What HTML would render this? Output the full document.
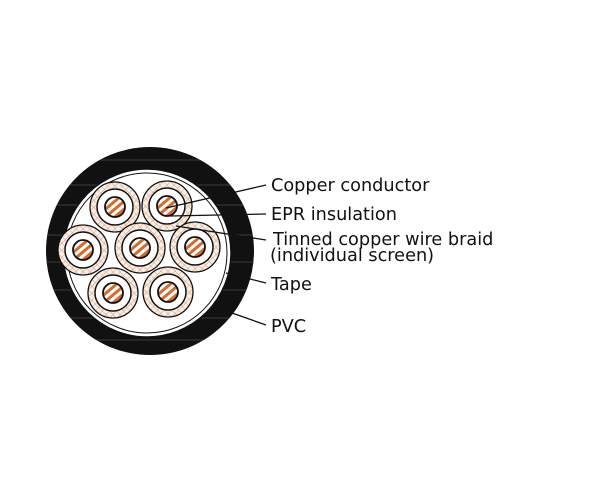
<!DOCTYPE html>
<html><head><style>body{margin:0;background:#fff}svg{display:block}</style></head><body>
<svg width="600" height="500" xmlns="http://www.w3.org/2000/svg">
<defs>
<pattern id="br" width="5" height="5" patternUnits="userSpaceOnUse" patternTransform="rotate(45)">
<rect width="5" height="5" fill="#f7efe8"/><path d="M0 0H5M0 0V5" stroke="#d9a07a" stroke-width="1"/></pattern>
<pattern id="cu" width="6" height="6" patternUnits="userSpaceOnUse" patternTransform="rotate(-40)">
<rect width="6" height="6" fill="#fff"/><rect width="6" height="3" fill="#d9692a"/></pattern>
<clipPath id="oc"><circle cx="150" cy="251" r="104"/></clipPath>
<g id="c">
<circle r="25" fill="url(#br)" stroke="#111" stroke-width="1.3"/>
<circle r="18" fill="#fff" stroke="#111" stroke-width="1.5"/>
<circle r="10" fill="url(#cu)" stroke="#111" stroke-width="1.8"/>
</g>
</defs>
<circle cx="150" cy="251" r="104" fill="#111"/>
<g stroke="#3a3a3a" stroke-width="1" clip-path="url(#oc)">
<path d="M40 160H260M40 185H260M40 205H260M40 235H260M40 262H260M40 290H260M40 318H260M40 340H260"/>
</g>
<circle cx="147" cy="253" r="84" fill="#fff" stroke="#111" stroke-width="1.5"/>
<circle cx="147" cy="253" r="80" fill="none" stroke="#111" stroke-width="1"/>
<use href="#c" x="115" y="207"/><use href="#c" x="167" y="206"/>
<use href="#c" x="83" y="250"/><use href="#c" x="140" y="248"/><use href="#c" x="195" y="247"/>
<use href="#c" x="113" y="293"/><use href="#c" x="168" y="292"/>
<g stroke="#111" stroke-width="1.3" fill="none">
<path d="M166 208L266 185"/><path d="M170 216L266 214"/><path d="M176 226L266 240"/>
<path d="M226 273L266 283"/><path d="M232 313L266 325"/>
</g>
<g font-family="DejaVu Sans, sans-serif" font-size="17.7" fill="#111">
<text x="271" y="191">Copper conductor</text>
<text x="271" y="220">EPR insulation</text>
<text x="273" y="245">Tinned copper wire braid</text>
<text x="270" y="261">(individual screen)</text>
<text x="271" y="290">Tape</text>
<text x="271" y="332">PVC</text>
</g>
</svg>
</body></html>
